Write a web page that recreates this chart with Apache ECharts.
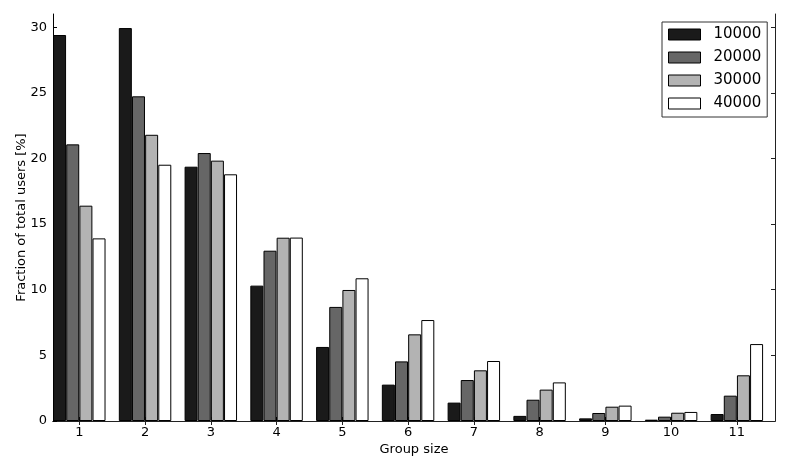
<!DOCTYPE html>
<html><head><meta charset="utf-8">
<script src="https://cdn.jsdelivr.net/npm/echarts@6/dist/echarts.min.js"></script>
<style>html,body{margin:0;padding:0;background:#fff}#c{width:789px;height:473px}</style>
</head><body><div id="c"></div>
<script>
var categories = [1,2,3,4,5,6,7,8,9,10,11];
var seriesNames = ['10000','20000','30000','40000'];
var s10000 = [29.4, 29.93, 19.37, 10.31, 5.64, 2.77, 1.40, 0.39, 0.20, 0.10, 0.53];
var s20000 = [21.07, 24.73, 20.41, 12.97, 8.69, 4.54, 3.12, 1.62, 0.61, 0.33, 1.93];
var s30000 = [16.4, 21.8, 19.83, 13.96, 9.98, 6.6, 3.86, 2.39, 1.09, 0.63, 3.48];
var s40000 = [13.91, 19.52, 18.79, 13.97, 10.87, 7.69, 4.57, 2.94, 1.17, 0.69, 5.86];
var yTicks = [0,5,10,15,20,25,30];
var colors = ['#1a1a1a','#666666','#b3b3b3','#ffffff'];

var values = [s10000, s20000, s30000, s40000];
var FONT = 'DejaVu Sans';
var series = values.map(function(arr, k){
  return {
    name: seriesNames[k], type: 'bar', barWidth: 13, barGap: '-100%',
    xAxisIndex: 0, yAxisIndex: 0,
    itemStyle: {color: colors[k], borderColor: '#000', borderWidth: 1},
    data: arr.map(function(v, i){ return [categories[i] - 0.3 + 0.2 * k, v]; })
  };
});
var chart = echarts.init(document.getElementById('c'), null, {renderer: 'canvas'});
var xMin = 0.6, xMax = 11.58;
chart.setOption({
  animation: false,
  backgroundColor: '#fff',
  textStyle: {fontFamily: FONT},
  grid: {left: 53, right: 14, top: 14, bottom: 52, outerBoundsMode: 'none'},
  legend: {
    data: seriesNames, orient: 'vertical', left: 662, top: 22,
    backgroundColor: '#fff', borderColor: '#333', borderWidth: 1,
    padding: [5, 6, 6, 6], itemWidth: 32, itemHeight: 11, itemGap: 8,
    icon: 'rect',
    itemStyle: {borderColor: '#000', borderWidth: 1},
    textStyle: {fontFamily: FONT, fontSize: 15, color: '#000', lineHeight: 15, padding: [0,0,0,8]}
  },
  xAxis: [{
    type: 'value', min: xMin, max: xMax, position: 'bottom',
    name: 'Group size', nameLocation: 'middle', nameGap: 22, nameMoveOverlap: false,
    nameTextStyle: {fontFamily: FONT, fontSize: 13, color: '#000'},
    axisLine: {show: true, lineStyle: {color: '#000', width: 1}},
    axisTick: {show: true, inside: true, length: 4, customValues: categories, lineStyle: {color: '#000'}},
    axisLabel: {show: true, customValues: categories, fontSize: 13, color: '#000', margin: 5, fontFamily: FONT},
    splitLine: {show: false}
  }, {
    type: 'value', min: xMin, max: xMax, position: 'top',
    axisLine: {show: true, lineStyle: {color: '#222', width: 1}},
    axisTick: {show: true, inside: true, length: 4, customValues: categories, lineStyle: {color: '#222'}},
    axisLabel: {show: false}, splitLine: {show: false}
  }],
  yAxis: [{
    type: 'value', min: 0, max: 31, interval: 5, position: 'left',
    name: 'Fraction of total users [%]', nameLocation: 'middle', nameGap: 25, nameMoveOverlap: false,
    nameTextStyle: {fontFamily: FONT, fontSize: 13, color: '#000'},
    axisLine: {show: true, lineStyle: {color: '#000', width: 1}},
    axisTick: {show: true, inside: true, length: 4, customValues: yTicks, lineStyle: {color: '#000'}},
    axisLabel: {show: true, customValues: yTicks, fontSize: 13, color: '#000', margin: 6, fontFamily: FONT},
    splitLine: {show: false}
  }, {
    type: 'value', min: 0, max: 31, interval: 5, position: 'right',
    axisLine: {show: true, lineStyle: {color: '#222', width: 1}},
    axisTick: {show: true, inside: true, length: 4, customValues: yTicks, lineStyle: {color: '#222'}},
    axisLabel: {show: false}, splitLine: {show: false}
  }],
  series: series
});
</script></body></html>
